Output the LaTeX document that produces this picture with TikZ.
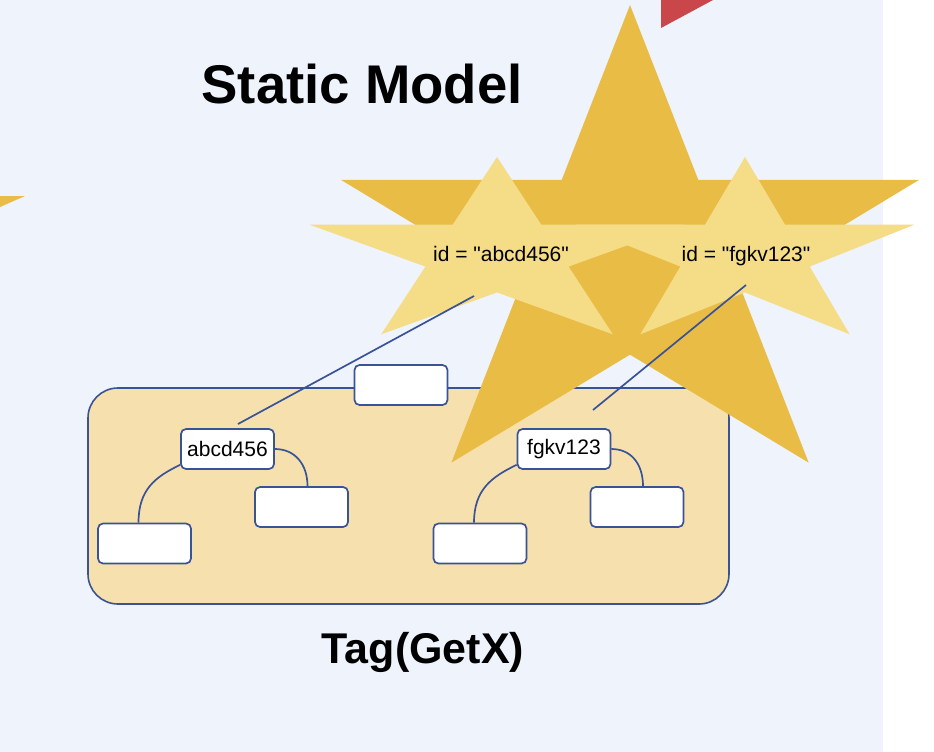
\documentclass[tikz,border=0pt]{standalone}
\usepackage{fontspec}
\setmainfont{Liberation Sans}
\usepackage{xcolor}
\usepackage{tikz}

\definecolor{panelblue}{HTML}{EEF3FC}
\definecolor{stardark}{HTML}{E9BD45}
\definecolor{starlight}{HTML}{F5DC87}
\definecolor{tagfill}{HTML}{F6E1AE}
\definecolor{lineblue}{HTML}{3A5397}
\definecolor{flagred}{HTML}{C9464A}

\begin{document}
\begin{tikzpicture}[x=1pt, y=-1pt,
    box/.style={draw=lineblue, fill=white, line width=1.7pt, rounded corners=5pt,
      minimum width=93pt, minimum height=40pt, inner sep=0pt,
      font=\fontsize{21}{25}\selectfont},
    tagbox/.style={draw=lineblue, fill=tagfill, line width=1.6pt, rounded corners=30pt,
      minimum width=641pt, minimum height=216pt, inner sep=0pt},
    link/.style={draw=lineblue, line width=1.7pt}]
        \useasboundingbox (0,0) rectangle (934,752);

        % Background panel
        \fill[white] (0,0) rectangle (934,752);
        \fill[panelblue] (0,0) rectangle (883,752);
        \fill[flagred] (661,0) -- (713,0) -- (661,28) -- cycle;
        \fill[stardark] (0,196) -- (25,196) -- (0,207) -- cycle;

        % Titles
        \node[anchor=base, inner sep=0pt, font=\fontsize{54.5}{60}\selectfont\bfseries] (title) at (362,103) {Static Model};
        \node[anchor=base, inner sep=0pt, font=\fontsize{43}{50}\selectfont\bfseries] (tagname) at (423,663) {Tag(GetX)};

        % Define the container
        \node[tagbox] (tag) at (408.5,496) {};

        % Draw the stars
        \foreach \cx/\cy/\rx/\ry/\col in {630/258/304/253/stardark, 497/255/197/98/starlight, 745/255/178/98/starlight}
          \fill[\col] ({\cx+\rx*cos(90)},{\cy-\ry*sin(90)})
            \foreach \a in {90,162,234,306,378} {
              -- ({\cx+\rx*cos(\a)},{\cy-\ry*sin(\a)})
              -- ({\cx+0.382*\rx*cos(\a+36)},{\cy-0.382*\ry*sin(\a+36)})
            } -- cycle;

        % Define the nodes
        \node[box] (top) at (401,385) {};
        \node[box] (a) at (227.5,449) {abcd456};
        \node[box] (aR) at (301.5,507) {};
        \node[box] (aL) at (144.5,543.5) {};
        \node[box] (f) at (564,449) {fgkv123};
        \node[box] (fR) at (637,507) {};
        \node[box] (fL) at (480,543.5) {};

        % Tree branches
        \draw[link] ([yshift=5pt]a.south west) .. controls +(-25,12) and +(0,-33) .. ([xshift=-6pt]aL.north);
        \draw[link] (a.east) .. controls +(20,0) and +(0,-22) .. ([xshift=6pt]aR.north);
        \draw[link] ([yshift=5pt]f.south west) .. controls +(-25,12) and +(0,-33) .. ([xshift=-6pt]fL.north);
        \draw[link] (f.east) .. controls +(20,0) and +(0,-22) .. ([xshift=6pt]fR.north);

        % Star labels
        \node[anchor=base, inner sep=0pt, font=\fontsize{21}{25}\selectfont] (idA) at (501,261) {id = \textquotedbl abcd456\textquotedbl};
        \node[anchor=base, inner sep=0pt, font=\fontsize{21}{25}\selectfont] (idF) at (746,261) {id = \textquotedbl fgkv123\textquotedbl};

        % Draw the links
        \coordinate (idAend) at (474,296);
        \coordinate (aTip) at (238,424);
        \coordinate (idFend) at (746,285);
        \coordinate (fTip) at (593,410);
        \draw[link] (idAend) -- (aTip);
        \draw[link] (idFend) -- (fTip);
    \end{tikzpicture}
\end{document}
